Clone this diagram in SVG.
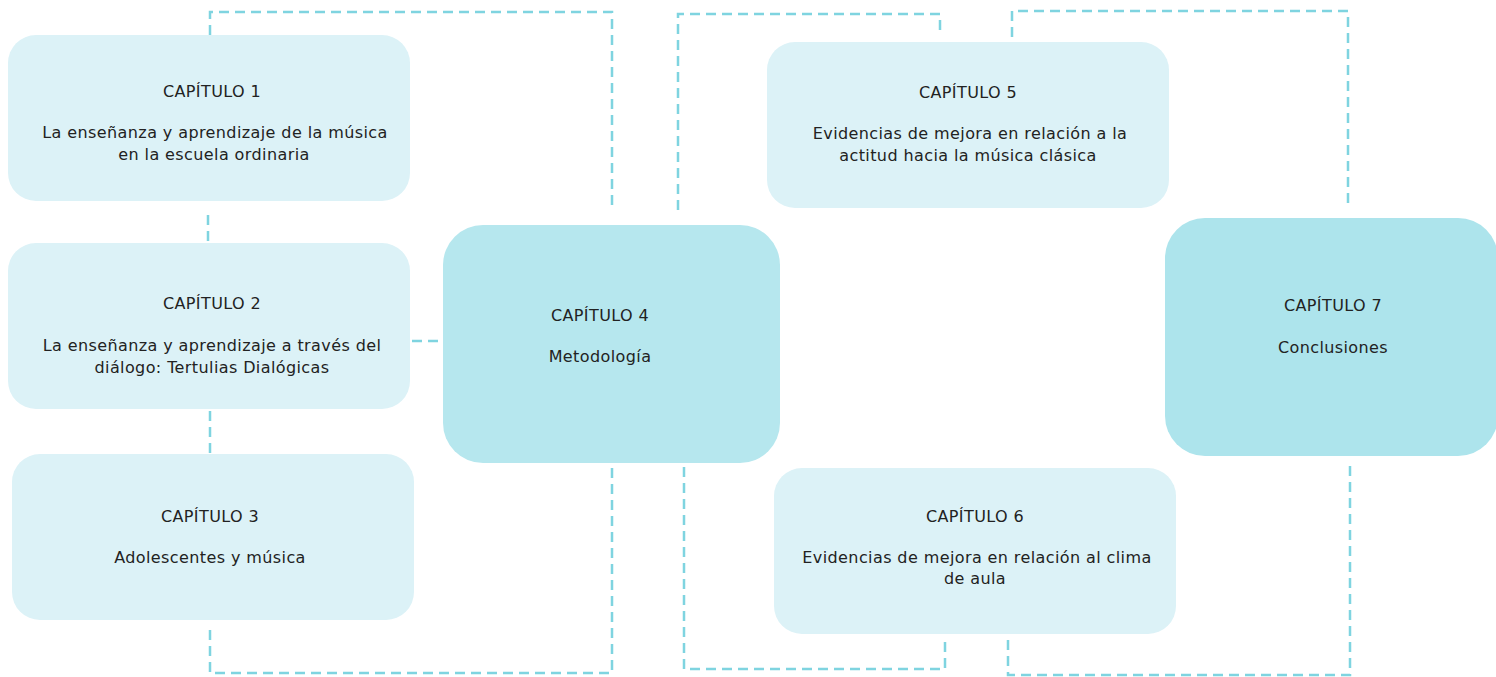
<svg xmlns="http://www.w3.org/2000/svg" width="1496" height="677" viewBox="0 0 1496 677">
<style>
.n1{fill:#dcf2f7}
.n2{fill:#b6e7ee}
.n3{fill:#ade4ec}
text{font-family:"DejaVu Sans","Liberation Sans",sans-serif;font-size:16px;letter-spacing:0.4px;fill:#222;text-anchor:middle}
.c{fill:none;stroke:#7fd4e0;stroke-width:2.5;stroke-dasharray:10 6}
</style>
<rect width="1496" height="677" fill="#fff"/>
<g id="connectors">
<path class="c" d="M210 35 V12 H612 V210"/>
<path class="c" d="M208 215 V243"/>
<path class="c" d="M210 411 V454"/>
<path class="c" d="M412 341 H443"/>
<path class="c" d="M210 630 V673 H612 V466"/>
<path class="c" d="M678 210 V14 H940 V36"/>
<path class="c" d="M1012 37 V11 H1348 V203"/>
<path class="c" d="M684 467 V669 H945 V640"/>
<path class="c" d="M1008 640 V675 H1350 V462"/>
</g>
<g id="node1"><rect class="n1" x="8" y="35" width="402" height="166" rx="28"/>
<text x="212" y="97">CAPÍTULO 1</text>
<text x="215" y="138">La enseñanza y aprendizaje de la música</text>
<text x="214" y="160">en la escuela ordinaria</text></g>
<g id="node2"><rect class="n1" x="8" y="243" width="402" height="166" rx="28"/>
<text x="212" y="309">CAPÍTULO 2</text>
<text x="212" y="351">La enseñanza y aprendizaje a través del</text>
<text x="212" y="373">diálogo: Tertulias Dialógicas</text></g>
<g id="node3"><rect class="n1" x="12" y="454" width="402" height="166" rx="28"/>
<text x="210" y="522">CAPÍTULO 3</text>
<text x="210" y="563">Adolescentes y música</text></g>
<g id="node4"><rect class="n2" x="443" y="225" width="337" height="238" rx="40"/>
<text x="600" y="321">CAPÍTULO 4</text>
<text x="600" y="362">Metodología</text></g>
<g id="node5"><rect class="n1" x="767" y="42" width="402" height="166" rx="28"/>
<text x="968" y="98">CAPÍTULO 5</text>
<text x="970" y="139">Evidencias de mejora en relación a la</text>
<text x="968" y="161">actitud hacia la música clásica</text></g>
<g id="node6"><rect class="n1" x="774" y="468" width="402" height="166" rx="28"/>
<text x="975" y="522">CAPÍTULO 6</text>
<text x="977" y="563">Evidencias de mejora en relación al clima</text>
<text x="975" y="584">de aula</text></g>
<g id="node7"><rect class="n3" x="1165" y="218" width="333" height="238" rx="40"/>
<text x="1333" y="311">CAPÍTULO 7</text>
<text x="1333" y="353">Conclusiones</text></g>
</svg>
